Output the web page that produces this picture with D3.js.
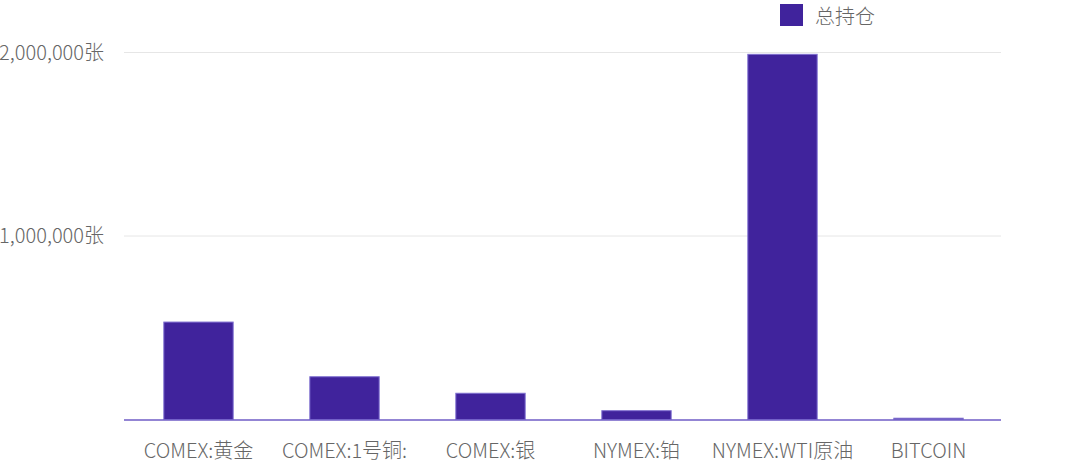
<!DOCTYPE html>
<html><head><meta charset="utf-8">
<script src="https://cdn.jsdelivr.net/npm/d3@7/dist/d3.min.js"></script>
<style>
html,body{margin:0;padding:0;background:#fff;}
text{font-family:"Noto Sans CJK SC","Noto Sans",sans-serif;}
</style></head>
<body><svg id="c" width="1080" height="464"></svg>
<script>
const categories = ["COMEX:黄金","COMEX:1号铜:","COMEX:银","NYMEX:铂","NYMEX:WTI原油","BITCOIN"];
const totalPositions = [531000, 233000, 143000, 48000, 1990000, 7000];
const yTicks = [1000000, 2000000];
const seriesName = "总持仓";

(function () {
const svg = d3.select("#c");
const mLeft = 124, mRight = 1001, mTop = 52.5, mBottom = 419.5;

const x = d3.scaleBand().domain(categories).range([mLeft + 1.5, mRight + 0.5]).paddingInner(0.525).paddingOuter(0.2625);
const y = d3.scaleLinear().domain([0, 2000000]).range([mBottom, mTop]);

// gridlines
svg.append("g").selectAll("line").data(yTicks).join("line")
  .attr("x1", mLeft).attr("x2", mRight)
  .attr("y1", d => y(d)).attr("y2", d => y(d))
  .attr("stroke", "#e6e6e6").attr("stroke-width", 1);

// y labels
const fmt = d3.format(",");
svg.append("g").selectAll("text").data(yTicks).join("text")
  .attr("x", 104).attr("y", d => y(d)).attr("dy", "0.35em")
  .attr("text-anchor", "end").attr("font-size", 20).attr("font-weight", 300).attr("fill", "#666")
  .text(d => fmt(d) + "张");

// bars
svg.append("g").selectAll("rect").data(categories).join("rect")
  .attr("x", d => x(d)).attr("width", x.bandwidth())
  .attr("y", (d, i) => y(totalPositions[i]))
  .attr("height", (d, i) => y(0) - y(totalPositions[i]))
  .attr("fill", "#40239c").attr("stroke", "#7f6fd0").attr("stroke-width", 1);

// x axis line
svg.append("line").attr("x1", mLeft).attr("x2", mRight)
  .attr("y1", y(0) + 0.5).attr("y2", y(0) + 0.5)
  .attr("stroke", "#6f5cc6").attr("stroke-width", 1.5);

// x labels
svg.append("g").selectAll("text").data(categories).join("text")
  .attr("x", d => x(d) + x.bandwidth() / 2).attr("y", 451).attr("dy", "0.35em")
  .attr("text-anchor", "middle").attr("font-size", 20).attr("font-weight", 300).attr("fill", "#666")
  .text(d => d);

// legend
svg.append("rect").attr("x", 780).attr("y", 4).attr("width", 23).attr("height", 22).attr("fill", "#40239c");
svg.append("text").attr("x", 815).attr("y", 17).attr("dy", "0.35em")
  .attr("font-size", 20).attr("font-weight", 300).attr("fill", "#666").text(seriesName);
})();
</script>
</body></html>
